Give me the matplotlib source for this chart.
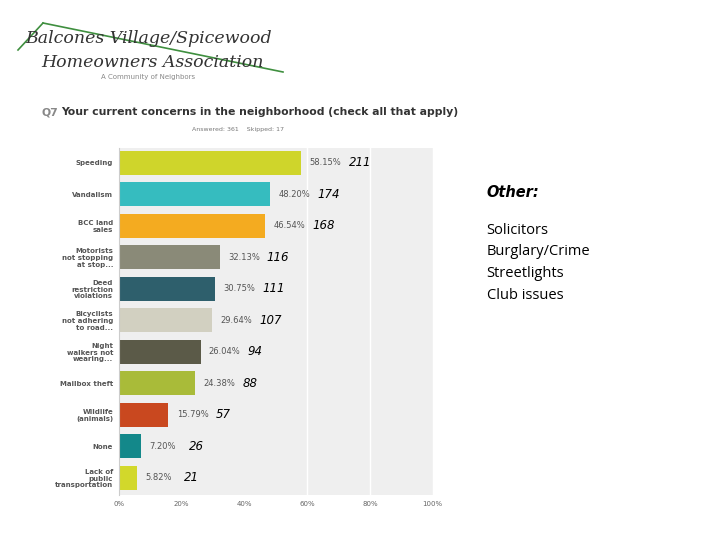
import matplotlib.pyplot as plt
from matplotlib.lines import Line2D

categories = ["Speeding", "Vandalism", "BCC land\nsales", "Motorists\nnot stopping\nat stop...",
              "Deed\nrestriction\nviolations", "Bicyclists\nnot adhering\nto road...",
              "Night\nwalkers not\nwearing...", "Mailbox theft", "Wildlife\n(animals)", "None",
              "Lack of\npublic\ntransportation"]
percents = [58.15, 48.20, 46.54, 32.13, 30.75, 29.64, 26.04, 24.38, 15.79, 7.20, 5.82]
counts = [211, 174, 168, 116, 111, 107, 94, 88, 57, 26, 21]
colors = ["#cfd52b", "#36bcbf", "#f4ab20", "#8a8a78", "#2e5f6c", "#d2d0c1",
          "#5b5a48", "#a9bb39", "#c9481f", "#13888a", "#d2d82b"]
xticks = [0, 20, 40, 60, 80, 100]
other_items = ["Solicitors", "Burglary/Crime", "Streetlights", "Club issues"]

fig = plt.figure(figsize=(7.2, 5.4), dpi=100)
ax = fig.add_axes([0.165, 0.0833, 0.436, 0.643])
ax.set_facecolor("#efefef")

y = list(range(len(categories)))
ax.barh(y, percents, height=0.76, color=colors, zorder=2)
for t in xticks:
    if t > max(percents):
        ax.axvline(t, color="white", lw=1, zorder=1)

for i in y:
    ax.annotate(f"{percents[i]:.2f}%", (percents[i], i), xytext=(6, 0), textcoords="offset points",
                va="center", ha="left", fontsize=6, color="#555555")
    ax.annotate(str(counts[i]), (percents[i], i), xytext=(34, 0), textcoords="offset points",
                va="center", ha="left", fontsize=8.5, style="italic", color="black")

ax.set_xlim(0, 100)
ax.set_ylim(10.55, -0.48)
ax.set_yticks(y)
ax.set_yticklabels(categories, fontsize=5, fontweight="bold", color="#555555", linespacing=1.15)
ax.set_xticks(xticks)
ax.set_xticklabels([f"{t}%" for t in xticks], fontsize=5, color="#666666")
ax.tick_params(length=0, pad=4)
for s in ["top", "right", "bottom"]:
    ax.spines[s].set_visible(False)
ax.spines["left"].set_color("#cccccc")
ax.spines["left"].set_linewidth(0.8)

# logo
fig.text(0.035, 0.928, "Balcones Village/Spicewood", fontsize=12.5, family="DejaVu Serif",
         style="italic", color="#333333", va="center")
fig.text(0.058, 0.885, "Homeowners Association", fontsize=12.5, family="DejaVu Serif",
         style="italic", color="#333333", va="center")
fig.text(0.14, 0.857, "A Community of Neighbors", fontsize=5, color="#888888", va="center")
fig.add_artist(Line2D([18 / 720, 43 / 720], [1 - 50 / 540, 1 - 23 / 540], color="#3f8f3f", lw=1.2))
fig.add_artist(Line2D([43 / 720, 283 / 720], [1 - 23 / 540, 1 - 72 / 540], color="#3f8f3f", lw=1.2))

# title
fig.text(0.058, 0.792, "Q7", fontsize=7.8, fontweight="bold", color="#888888", va="center")
fig.text(0.0855, 0.792, "Your current concerns in the neighborhood (check all that apply)",
         fontsize=7.8, fontweight="bold", color="#333333", va="center")
fig.text(0.33, 0.761, "Answered: 361    Skipped: 17", fontsize=4.5, color="#777777", va="center", ha="center")

# other box
fig.text(0.676, 0.643, "Other:", fontsize=10.5, fontweight="bold", style="italic", color="black", va="center")
for k, item in enumerate(other_items):
    fig.text(0.676, 0.574 - k * 0.0405, item, fontsize=10.5, family="Open Sans", color="black", va="center")

fig.savefig("out.png", dpi=100)
